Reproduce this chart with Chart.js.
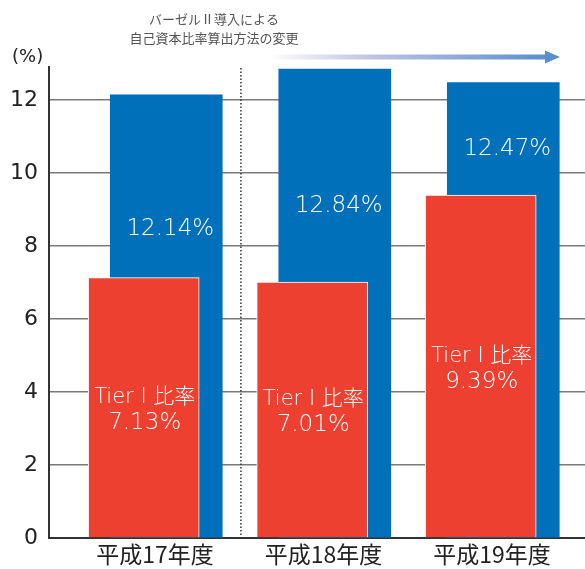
<!DOCTYPE html>
<html>
<head>
<meta charset="utf-8">
<script src="https://cdn.jsdelivr.net/npm/chart.js@4"></script>
<style>
  html, body { margin: 0; padding: 0; background: #ffffff; }
  #wrap { width: 585px; height: 569px; position: relative; }
</style>
</head>
<body>
<div id="wrap"><canvas id="c" width="585" height="569"></canvas></div>
<script>
// ---- data ----
const categories = ['平成17年度', '平成18年度', '平成19年度'];
const totalRatio = [12.14, 12.84, 12.47];   // 自己資本比率 (blue)
const tier1Ratio = [7.13, 7.01, 9.39];      // Tier I 比率 (red)
const yTicks = [0, 2, 4, 6, 8, 10, 12];
const titleLines = ['バーゼルⅡ導入による', '自己資本比率算出方法の変更'];
const unitLabel = '(%)';
const tier1Name = 'Tier Ⅰ 比率';

// ---- layout constants ----
const SHIFT = 0.067;          // horizontal offset of the two overlapping bars
const blueLabelAt = [8.45, 9.1, 10.65];   // vertical anchor (in axis units) for blue labels

const BLUE = '#0070ba';
const RED = '#ee4030';
const NUMFONT = '"DejaVu Sans", "Noto Sans CJK JP", sans-serif';
const CJKFONT = '"Noto Sans CJK JP", "DejaVu Sans", sans-serif';

const redData = tier1Ratio.map((v, i) => ({ x: i - SHIFT, y: v }));
const blueData = totalRatio.map((v, i) => ({ x: i + SHIFT, y: v }));

const decorPlugin = {
  id: 'decor',
  beforeDatasetsDraw(chart) {
    const { ctx, chartArea, scales } = chart;
    const x = scales.x.getPixelForValue(0.51);
    ctx.save();
    ctx.strokeStyle = '#333';
    ctx.lineWidth = 1.5;
    ctx.setLineDash([1.5, 2]);
    ctx.beginPath();
    ctx.moveTo(x, chartArea.top + 1);
    ctx.lineTo(x, chartArea.bottom);
    ctx.stroke();
    ctx.restore();
  },
  afterDatasetsDraw(chart) {
    const { ctx, scales } = chart;
    const xs = scales.x, ys = scales.y;
    ctx.save();
    ctx.fillStyle = '#ffffff';
    ctx.textAlign = 'center';
    ctx.textBaseline = 'middle';
    // blue labels
    ctx.font = '200 23px ' + NUMFONT;
    totalRatio.forEach((v, i) => {
      const px = xs.getPixelForValue(i + SHIFT) + 4;
      const py = ys.getPixelForValue(blueLabelAt[i]);
      ctx.fillText(v.toFixed(2) + '%', px, py);
    });
    // red labels
    tier1Ratio.forEach((v, i) => {
      const px = xs.getPixelForValue(i - SHIFT) + 1;
      const mid = ys.getPixelForValue(v / 2);
      ctx.font = '200 21px ' + NUMFONT;
      ctx.fillText(tier1Name, px, mid - 10);
      ctx.font = '200 23px ' + NUMFONT;
      ctx.fillText(v.toFixed(2) + '%', px, mid + 15);
    });
    ctx.restore();
  },
  afterDraw(chart) {
    const { ctx } = chart;
    ctx.save();
    // title
    ctx.fillStyle = '#555';
    ctx.font = '13px ' + CJKFONT;
    ctx.textAlign = 'center';
    ctx.textBaseline = 'middle';
    ctx.fillText(titleLines[0], 214, 19);
    ctx.fillText(titleLines[1], 214, 38);
    // unit
    ctx.fillStyle = '#222';
    ctx.font = '18px ' + NUMFONT;
    ctx.textAlign = 'left';
    ctx.fillText(unitLabel, 12, 57);
    // arrow
    const x0 = 268, x1 = 546, tip = 560, ay = 57;
    const g = ctx.createLinearGradient(x0, 0, x1, 0);
    g.addColorStop(0, 'rgba(255,255,255,1)');
    g.addColorStop(0.35, '#c4c6e2');
    g.addColorStop(1, '#5a8fce');
    ctx.fillStyle = g;
    ctx.fillRect(x0, ay - 2.5, x1 - x0, 5);
    ctx.fillStyle = '#5a8fce';
    ctx.beginPath();
    ctx.moveTo(x1 - 1, ay - 6.5);
    ctx.lineTo(tip, ay);
    ctx.lineTo(x1 - 1, ay + 6.5);
    ctx.closePath();
    ctx.fill();
    ctx.restore();
  }
};

new Chart(document.getElementById('c'), {
  type: 'bar',
  data: {
    datasets: [
      {
        label: tier1Name,
        data: redData,
        backgroundColor: RED,
        borderColor: '#ffffff',
        borderWidth: 1,
        borderSkipped: 'bottom',
        barThickness: 111,
        grouped: false
      },
      {
        label: '自己資本比率',
        data: blueData,
        backgroundColor: BLUE,
        borderWidth: 0,
        barThickness: 112,
        grouped: false
      }
    ]
  },
  options: {
    responsive: false,
    animation: false,
    layout: { padding: { top: 67, left: 0, right: 0, bottom: 0 } },
    plugins: { legend: { display: false }, tooltip: { enabled: false }, title: { display: false } },
    scales: {
      x: {
        type: 'linear',
        offset: false,
        min: -0.629,
        max: 2.552,
        afterBuildTicks(scale) { scale.ticks = categories.map((c, i) => ({ value: i })); },
        afterFit(scale) { scale.height = 31; scale.paddingLeft = 0; scale.paddingRight = 0; },
        grid: { display: false, drawTicks: false, offset: false },
        border: { display: true, color: '#333', width: 2 },
        ticks: {
          padding: 2,
          autoSkip: false,
          maxRotation: 0,
          color: '#222',
          font: { family: CJKFONT, size: 23 },
          callback: (v) => categories[v]
        }
      },
      y: {
        min: 0,
        max: 12.9,
        afterBuildTicks(scale) { scale.ticks = yTicks.map(v => ({ value: v })); },
        afterFit(scale) { scale.width = 49; scale.paddingTop = 0; scale.paddingBottom = 0; },
        grid: { color: '#7a7a7a', lineWidth: 1.5, drawTicks: false },
        border: { display: true, color: '#333', width: 2 },
        ticks: {
          padding: 11,
          color: '#222',
          font: { family: NUMFONT, size: 22 },
          callback: (v) => String(v)
        }
      }
    }
  },
  plugins: [decorPlugin]
});
</script>
</body>
</html>
